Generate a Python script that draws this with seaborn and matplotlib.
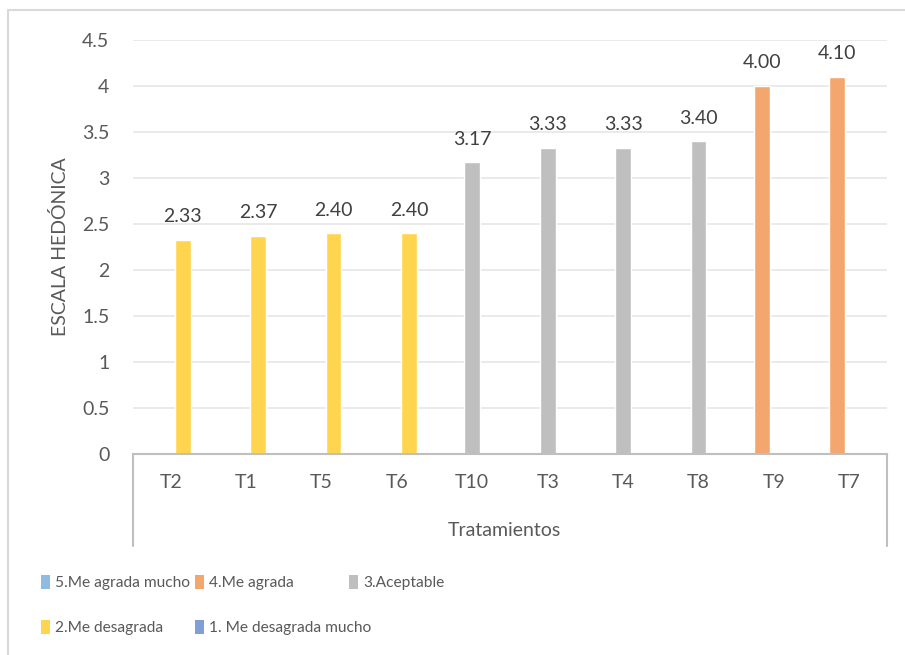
import matplotlib
matplotlib.use("Agg")
import matplotlib.pyplot as plt
from matplotlib.lines import Line2D
from matplotlib.patches import Patch
import numpy as np
import pandas as pd
import seaborn as sns

# Hedonic scale scores per treatment, sorted ascending
treatments = ["T2", "T1", "T5", "T6", "T10", "T3", "T4", "T8", "T9", "T7"]
scores = [2.33, 2.37, 2.40, 2.40, 3.17, 3.33, 3.33, 3.40, 4.00, 4.10]
ratings = ["2.Me desagrada"] * 4 + ["3.Aceptable"] * 4 + ["4.Me agrada"] * 2

levels = ["5.Me agrada mucho", "4.Me agrada", "3.Aceptable",
          "2.Me desagrada", "1. Me desagrada mucho"]
level_colors = ["#8FBBE3", "#F3A76F", "#BFBFBF", "#FFD54F", "#7F9FD6"]
y_ticks = [0, 0.5, 1, 1.5, 2, 2.5, 3, 3.5, 4, 4.5]

sns.set_theme(style="white")
plt.rcParams["font.family"] = ["Lato", "DejaVu Sans"]

W, H = 905, 655
fig = plt.figure(figsize=(W / 100, H / 100), dpi=100)
ax = fig.add_axes([133 / W, 1 - 454 / H, 754 / W, 414 / H])

df = pd.DataFrame({"Tratamiento": treatments, "Puntaje": scores, "Nivel": ratings})
palette = dict(zip(levels, level_colors))
sns.barplot(data=df, x="Tratamiento", y="Puntaje", hue="Nivel",
            order=treatments, hue_order=levels, palette=palette,
            dodge=True, width=0.8, errorbar=None, saturation=1,
            legend=False, ax=ax)

# slightly overlapping series bars, as in a clustered bar chart with overlap
bar_w = 0.208
for p in ax.patches:
    cx = p.get_x() + p.get_width() / 2
    p.set_width(bar_w)
    p.set_x(cx - bar_w / 2)

text_col = "#595959"
for c in ax.containers:
    ax.bar_label(c, fmt="%.2f", padding=10.5, fontsize=14, color="#404040")

ax.set_xlim(-0.5, len(treatments) - 0.5)
ax.set_ylim(0, 4.5)
ax.set_yticks(y_ticks)
ax.set_yticklabels([f"{v:g}" for v in y_ticks])
ax.yaxis.grid(True, color="#E6E6E6", lw=1.2)
ax.xaxis.grid(False)
ax.set_axisbelow(True)
for s in ["left", "right", "top"]:
    ax.spines[s].set_visible(False)
ax.spines["bottom"].set_color("#BFBFBF")
ax.spines["bottom"].set_linewidth(1.5)
ax.tick_params(axis="both", length=0, labelsize=14, colors=text_col)
ax.tick_params(axis="y", pad=17)
ax.tick_params(axis="x", pad=14.5)
ax.set_xlabel("")
ax.set_ylabel("")

# category axis frame lines below the plot
for xa in (0, 1):
    ax.plot([xa, xa], [0, -0.222], transform=ax.transAxes, clip_on=False,
            color="#BFBFBF", lw=1.5)

fig.text(60 / W, 1 - 247 / H, "ESCALA HEDÓNICA", rotation=90,
         ha="center", va="center", fontsize=14, color=text_col)
fig.text(504 / W, 1 - 530 / H, "Tratamientos", ha="center", va="center",
         fontsize=14, color=text_col)

# legend laid out in three fixed-width columns, filled row by row
columns = [[0, 3], [1, 4], [2]]
col_x = [41, 195, 349]
for xs, idx in zip(col_x, columns):
    handles = [Patch(facecolor=level_colors[i], edgecolor="none") for i in idx]
    labels = [levels[i] for i in idx]
    fig.legend(handles, labels, loc="upper left",
               bbox_to_anchor=(xs / W, 1 - 575 / H),
               frameon=False, borderpad=0, borderaxespad=0,
               handlelength=0.6, handleheight=1.0, handletextpad=0.3,
               labelspacing=1.92, fontsize=11.2, labelcolor=text_col)

# chart frame edges
fig.add_artist(Line2D([8 / W, 1], [1 - 10 / H] * 2, transform=fig.transFigure,
                      color="#D9D9D9", lw=1.5))
fig.add_artist(Line2D([8 / W] * 2, [0, 1 - 10 / H], transform=fig.transFigure,
                      color="#D9D9D9", lw=1.5))

fig.savefig("out.png", dpi=100, facecolor="white")
